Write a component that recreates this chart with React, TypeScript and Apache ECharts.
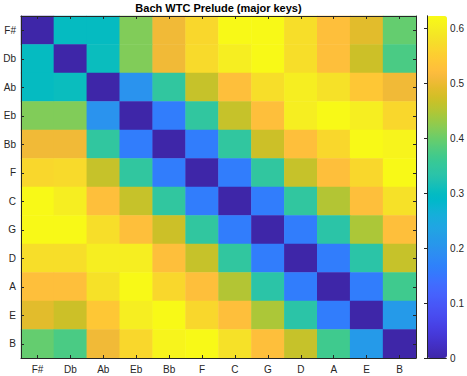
import React, { useEffect, useRef } from "react";
import * as echarts from "echarts";

const keys = ["F#", "Db", "Ab", "Eb", "Bb", "F", "C", "G", "D", "A", "E", "B"];

const rowFs = [0, 0.3, 0.3, 0.415, 0.505, 0.565, 0.618, 0.618, 0.575, 0.525, 0.49, 0.395];
const rowDb = [0.3, 0, 0.305, 0.415, 0.505, 0.57, 0.6, 0.618, 0.575, 0.525, 0.47, 0.375];
const rowAb = [0.3, 0.305, 0, 0.2, 0.345, 0.465, 0.525, 0.575, 0.6, 0.58, 0.54, 0.505];
const rowEb = [0.415, 0.415, 0.2, 0, 0.16, 0.345, 0.465, 0.525, 0.6, 0.618, 0.6, 0.565];
const rowBb = [0.505, 0.505, 0.345, 0.16, 0, 0.16, 0.345, 0.47, 0.525, 0.565, 0.618, 0.61];
const rowF = [0.565, 0.57, 0.465, 0.345, 0.16, 0, 0.16, 0.345, 0.465, 0.525, 0.565, 0.618];
const rowC = [0.618, 0.6, 0.525, 0.465, 0.345, 0.16, 0, 0.16, 0.345, 0.45, 0.525, 0.58];
const rowG = [0.618, 0.618, 0.575, 0.525, 0.47, 0.345, 0.16, 0, 0.16, 0.335, 0.445, 0.525];
const rowD = [0.575, 0.575, 0.6, 0.6, 0.525, 0.465, 0.345, 0.16, 0, 0.16, 0.335, 0.465];
const rowA = [0.525, 0.525, 0.58, 0.618, 0.565, 0.525, 0.45, 0.335, 0.16, 0, 0.16, 0.365];
const rowE = [0.49, 0.47, 0.54, 0.6, 0.618, 0.565, 0.525, 0.445, 0.335, 0.16, 0, 0.215];
const rowB = [0.395, 0.375, 0.505, 0.565, 0.61, 0.618, 0.58, 0.525, 0.465, 0.365, 0.215, 0];

const rows = [rowFs, rowDb, rowAb, rowEb, rowBb, rowF, rowC, rowG, rowD, rowA, rowE, rowB];

const colorMin = 0;
const colorMax = 0.622;
const colorbarStep = 0.1;

const parula: number[][] = [
  [0.2422, 0.1504, 0.6603], [0.2504, 0.165, 0.7076], [0.2578, 0.1818, 0.7511], [0.2647, 0.1978, 0.7952],
  [0.2706, 0.2147, 0.8364], [0.2751, 0.2342, 0.871], [0.2783, 0.2559, 0.8991], [0.2803, 0.2782, 0.9221],
  [0.2813, 0.3006, 0.9414], [0.281, 0.3228, 0.9579], [0.2795, 0.3447, 0.9717], [0.276, 0.3667, 0.9829],
  [0.2699, 0.3892, 0.9906], [0.2602, 0.4123, 0.9952], [0.244, 0.4358, 0.9988], [0.2206, 0.4603, 0.9973],
  [0.1963, 0.4847, 0.9892], [0.1834, 0.5074, 0.9798], [0.1786, 0.5289, 0.9682], [0.1764, 0.5499, 0.952],
  [0.1687, 0.5703, 0.9359], [0.154, 0.5902, 0.9218], [0.146, 0.6091, 0.9079], [0.138, 0.6276, 0.8973],
  [0.1248, 0.6459, 0.8883], [0.1113, 0.6635, 0.8763], [0.0952, 0.6798, 0.8598], [0.0689, 0.6948, 0.8394],
  [0.0297, 0.7082, 0.8163], [0.0036, 0.7203, 0.7917], [0.0067, 0.7312, 0.766], [0.0433, 0.7411, 0.7394],
  [0.0964, 0.75, 0.712], [0.1408, 0.7584, 0.6842], [0.1717, 0.767, 0.6554], [0.1938, 0.7758, 0.6251],
  [0.2161, 0.7843, 0.5923], [0.247, 0.7918, 0.5567], [0.2906, 0.7973, 0.5188], [0.3406, 0.8008, 0.4789],
  [0.3909, 0.8029, 0.4354], [0.4456, 0.8024, 0.3909], [0.5044, 0.7993, 0.348], [0.5616, 0.7942, 0.3045],
  [0.6174, 0.7876, 0.2612], [0.672, 0.7793, 0.2227], [0.7242, 0.7698, 0.191], [0.7738, 0.7598, 0.1646],
  [0.8203, 0.7498, 0.1535], [0.8634, 0.7406, 0.1596], [0.9035, 0.733, 0.1774], [0.9393, 0.7288, 0.21],
  [0.9728, 0.7298, 0.2394], [0.9956, 0.7434, 0.2371], [0.997, 0.7659, 0.2199], [0.9952, 0.7893, 0.2028],
  [0.9892, 0.8136, 0.1885], [0.9786, 0.8386, 0.1766], [0.9676, 0.8639, 0.1643], [0.961, 0.889, 0.1537],
  [0.9597, 0.9135, 0.1423], [0.9628, 0.9373, 0.1265], [0.9691, 0.9606, 0.1064], [0.9769, 0.9839, 0.0805],
];

const toHex = (c: number[]) =>
  "#" + c.map((v) => Math.round(v * 255).toString(16).padStart(2, "0")).join("");

const FONT = "'Liberation Sans', Arial, Helvetica, sans-serif";
const INK = "#262626";

export default function App() {
  const ref = useRef<HTMLDivElement>(null);
  useEffect(() => {
    if (!ref.current) return;
    const chart = echarts.init(ref.current, undefined, { renderer: "svg" });
    const data: number[][] = [];
    rows.forEach((r, yi) => r.forEach((v, xi) => data.push([xi, yi, v])));

    const axisLine = { show: true, lineStyle: { color: INK, width: 1 } };
    const tick = { show: true, inside: true, length: 3, alignWithLabel: true, lineStyle: { color: INK } };

    chart.setOption({
      animation: false,
      backgroundColor: "#ffffff",
      graphic: [
        {
          type: "text",
          x: 218.5,
          y: 8,
          z: 10,
          style: {
            text: "Bach WTC Prelude (major keys)",
            textAlign: "center",
            textVerticalAlign: "middle",
            font: `bold 11px ${FONT}`,
            fill: "#000000",
          },
        },
      ],
      grid: [
        { left: 21, top: 16, width: 395, height: 342 },
        { left: 427, top: 16, width: 20, height: 342 },
      ],
      xAxis: [
        {
          type: "category", gridIndex: 0, data: keys, position: "bottom", z: 5,
          axisLine, axisTick: tick, splitLine: { show: false },
          axisLabel: { fontSize: 10, color: INK, margin: 6, fontFamily: FONT },
        },
        {
          type: "category", gridIndex: 0, data: keys, position: "top", z: 5,
          axisLine, axisTick: tick, axisLabel: { show: false }, splitLine: { show: false },
        },
        {
          type: "value", gridIndex: 1, min: 0, max: 1, position: "bottom", z: 5,
          axisLine, axisTick: { show: false }, axisLabel: { show: false }, splitLine: { show: false },
        },
        {
          type: "value", gridIndex: 1, min: 0, max: 1, position: "top", z: 5,
          axisLine, axisTick: { show: false }, axisLabel: { show: false }, splitLine: { show: false },
        },
      ],
      yAxis: [
        {
          type: "category", gridIndex: 0, data: keys, inverse: true, position: "left", z: 5,
          axisLine, axisTick: tick, splitLine: { show: false },
          axisLabel: { fontSize: 10, color: INK, margin: 5, fontFamily: FONT },
        },
        {
          type: "category", gridIndex: 0, data: keys, inverse: true, position: "right", z: 5,
          axisLine, axisTick: tick, axisLabel: { show: false }, splitLine: { show: false },
        },
        {
          type: "value", gridIndex: 1, min: colorMin, max: colorMax, interval: colorbarStep, position: "left", z: 5,
          axisLine, axisTick: { show: false }, axisLabel: { show: false }, splitLine: { show: false },
        },
        {
          type: "value", gridIndex: 1, min: colorMin, max: colorMax, interval: colorbarStep, position: "right", z: 5,
          axisLine,
          axisTick: { show: true, inside: true, length: 3, lineStyle: { color: INK } },
          axisLabel: { fontSize: 10, color: INK, margin: 4, fontFamily: FONT, showMaxLabel: false },
          splitLine: { show: false },
        },
      ],
      visualMap: {
        type: "continuous",
        min: colorMin,
        max: colorMax,
        seriesIndex: 0,
        calculable: false,
        hoverLink: false,
        show: true,
        orient: "vertical",
        left: 427,
        top: 16,
        padding: 0,
        itemWidth: 20,
        itemHeight: 342,
        text: null,
        z: 1,
        inRange: { color: parula.map(toHex) },
      },
      series: [
        {
          type: "heatmap",
          xAxisIndex: 0,
          yAxisIndex: 0,
          data,
          z: 2,
          itemStyle: { borderWidth: 0 },
          emphasis: { disabled: true },
        },
        { type: "scatter", xAxisIndex: 2, yAxisIndex: 2, data: [] },
      ],
    });
    return () => chart.dispose();
  }, []);
  return (
    <div
      ref={ref}
      style={{ position: "absolute", left: 0, top: 0, width: 467, height: 376, background: "#fff" }}
    />
  );
}
